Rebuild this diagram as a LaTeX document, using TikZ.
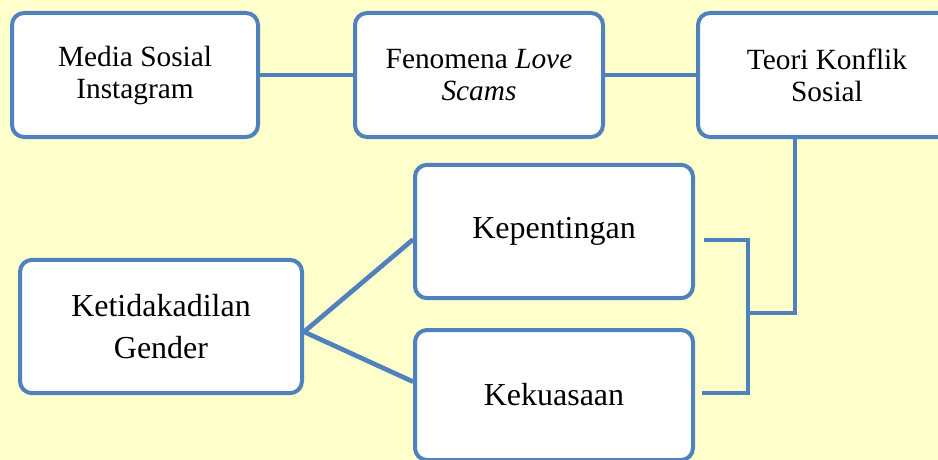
\documentclass[tikz,border=0pt]{standalone}
\usepackage{fontspec}
\setmainfont{Liberation Serif}
\definecolor{boxblue}{RGB}{79,129,189}
\definecolor{paleyellow}{RGB}{255,255,204}
\tikzset{
  box/.style={draw=boxblue, line width=3pt, fill=white, rounded corners=9pt,
    align=center, inner sep=2pt},
  toptext/.style={font=\fontsize{22}{24}\selectfont},
  lowtext/.style={font=\fontsize{24}{31.5}\selectfont},
  link/.style={draw=boxblue, line width=3.5pt}
}
\begin{document}
\begin{tikzpicture}[x=0.75pt, y=-0.75pt]
  \useasboundingbox (0,0) rectangle (938,460);
  \clip (0,0) rectangle (938,460);
  \fill[paleyellow] (0,0) rectangle (938,460);

  % top row
  \node[box, toptext, minimum width=184.5pt, minimum height=93pt] (media) at (135,75) {Media Sosial\\Instagram};
  \node[box, toptext, minimum width=186pt, minimum height=93pt] (fenomena) at (479,75) {Fenomena \textit{Love}\\\textit{Scams}};
  \node[box, toptext, minimum width=193.5pt, minimum height=93pt] (teori) at (827,75) {Teori Konflik\\Sosial};

  % lower part
  \node[box, lowtext, minimum width=208.5pt, minimum height=100pt] (kepentingan) at (554,231.5) {Kepentingan};
  \node[box, lowtext, minimum width=208.5pt, minimum height=97.5pt] (kekuasaan) at (554,395) {Kekuasaan};
  \node[box, lowtext, minimum width=211.5pt, minimum height=100pt] (ketidakadilan) at (161,326.5) {Ketidakadilan\\Gender};

  \coordinate (tjoin) at (795,313);
  \coordinate (bjoin) at (748,313);
  \coordinate (btop) at (748,240);
  \coordinate (bbot) at (748,393);

  \draw[link] (media) -- (fenomena);
  \draw[link] (fenomena) -- (teori);
  \draw[link] (teori.south -| tjoin) -- (tjoin) -- (bjoin);
  \draw[link] ([xshift=6.5pt]kepentingan.east |- btop) -- (btop) -- (bbot) -- ([xshift=5pt]kekuasaan.east |- bbot);
  \draw[link] ([yshift=-4pt]ketidakadilan.east) -- ([yshift=-6pt]kepentingan.west);
  \draw[link] ([yshift=-4pt]ketidakadilan.east) -- ([yshift=10pt]kekuasaan.west);
\end{tikzpicture}
\end{document}
